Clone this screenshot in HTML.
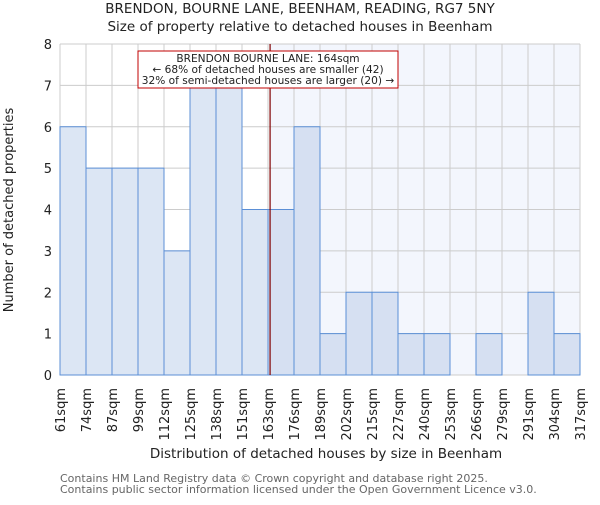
<!DOCTYPE html>
<html><head><meta charset="utf-8"><style>
body{margin:0;background:#fff}
svg text{font-family:"DejaVu Sans","Liberation Sans",sans-serif}
</style></head><body>
<svg id="c" width="600" height="500" xmlns="http://www.w3.org/2000/svg">
<text x="300" y="13" text-anchor="middle" font-size="13.5" fill="#222">BRENDON, BOURNE LANE, BEENHAM, READING, RG7 5NY</text>
<text x="300" y="31" text-anchor="middle" font-size="13.5" fill="#222">Size of property relative to detached houses in Beenham</text>
<g id="plot"></g>
<text x="326" y="458" text-anchor="middle" font-size="13.5" fill="#222">Distribution of detached houses by size in Beenham</text>
<text transform="translate(13,210) rotate(-90)" text-anchor="middle" font-size="13" fill="#222">Number of detached properties</text>
<text x="60" y="482" font-size="11" fill="#666">Contains HM Land Registry data © Crown copyright and database right 2025.</text>
<text x="60" y="493" font-size="11" fill="#666">Contains public sector information licensed under the Open Government Licence v3.0.</text>
</svg>
<script>
const categories=["61sqm","74sqm","87sqm","99sqm","112sqm","125sqm","138sqm","151sqm","163sqm","176sqm","189sqm","202sqm","215sqm","227sqm","240sqm","253sqm","266sqm","279sqm","291sqm","304sqm","317sqm"];
const counts=[6,5,5,5,3,7,7,4,4,6,1,2,2,1,1,0,1,0,2,1];
const yTicks=[0,1,2,3,4,5,6,7,8];
const markerIndex=8.08;
const annotation=["BRENDON BOURNE LANE: 164sqm","← 68% of detached houses are smaller (42)","32% of semi-detached houses are larger (20) →"];
const NS="http://www.w3.org/2000/svg";
const L=60,R=580,T=44,B=375,yMax=8;
const bw=(R-L)/counts.length;
const x=i=>L+i*bw;
const y=v=>B-(B-T)*v/yMax;
const g=document.getElementById('plot');
function el(t,a){const e=document.createElementNS(NS,t);for(const k in a)e.setAttribute(k,a[k]);g.appendChild(e);return e;}
const mx=x(markerIndex);
let bg=el('rect',{x:mx,y:T,width:R-mx,height:B-T,fill:'#f3f6fd'});


for(let i=0;i<=counts.length;i++){let l=el('line',{x1:x(i),x2:x(i),y1:T,y2:B,stroke:'#cccccc'});

}
yTicks.forEach(v=>{let l=el('line',{x1:L,x2:R,y1:y(v),y2:y(v),stroke:'#cccccc'});


let t=el('text',{x:L-8,y:y(v)+5,'text-anchor':'end','font-size':13,fill:'#222'});t.textContent=v;

});
counts.forEach((c,i)=>{if(c<=0)return;let r=el('rect',{x:x(i),y:y(c),width:bw,height:y(0)-y(c),fill:i>=8?'#d6e0f2':'#dce6f4',stroke:'#5b8fd6','stroke-width':1});

});
categories.forEach((c,i)=>{let t=el('text',{transform:`translate(${x(i)+5},388) rotate(-90)`,'text-anchor':'end','font-size':13,fill:'#222'});t.textContent=c;

});
let ml=el('line',{x1:mx,x2:mx,y1:T,y2:B,stroke:'#800000','stroke-width':1.2});


let box=el('rect',{x:138,y:51,width:260,height:37,fill:'#fff',stroke:'#c00000'});


annotation.forEach((s,k)=>{let t=el('text',{x:268,y:62+k*11,'text-anchor':'middle','font-size':10.6,fill:'#222'});t.textContent=s;

});
</script>
</body></html>
